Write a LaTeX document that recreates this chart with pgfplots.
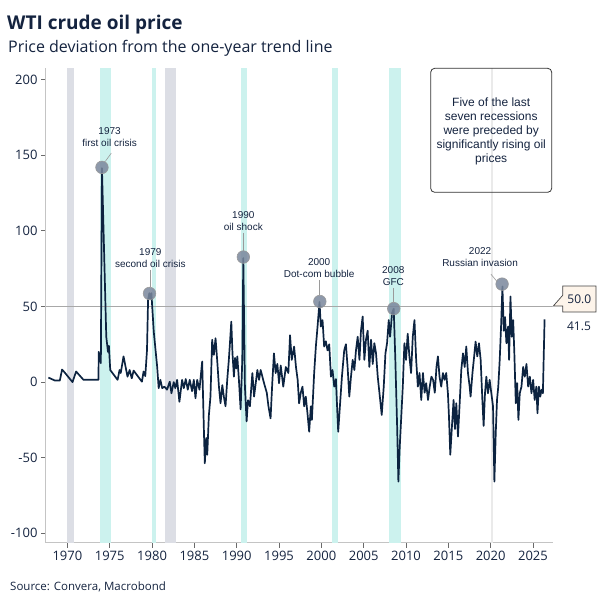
\documentclass[border=0pt]{standalone}
\usepackage{fontspec}
\setmainfont{Open Sans}
\newfontfamily\arialf{Liberation Sans}
\usepackage{pgfplots}
\pgfplotsset{compat=1.18}
\definecolor{navy}{HTML}{0C2340}
\definecolor{txt}{HTML}{14233F}
\definecolor{cyanband}{HTML}{CCF2EE}
\definecolor{grayband}{HTML}{DCDEE5}
\definecolor{axisgray}{HTML}{C4C4C4}
\definecolor{tickgray}{HTML}{6A6A6A}
\definecolor{refgray}{HTML}{A8A8A8}
\definecolor{covidline}{HTML}{EAEAEA}
\definecolor{dotfill}{HTML}{7A879C}
\definecolor{calloutfill}{HTML}{FDF4EA}
\definecolor{leader}{HTML}{9A9A9A}

\begin{document}
\begin{tikzpicture}
\path[use as bounding box] (0pt,0pt) rectangle (606pt,-606pt);
\begin{axis}[
  at={(46pt,-542.7pt)}, anchor=south west,
  scale only axis, width=506.7pt, height=474.7pt,
  xmin=1967.47, xmax=2027.33, ymin=-106.2, ymax=207.7,
  axis lines*=left,
  axis line style={draw=axisgray, line width=1pt, -},
  tick align=outside, major tick length=5pt,
  tick style={draw=tickgray, line width=0.8pt},
  xtick={1970,1975,...,2025},
  ytick={-100,-50,0,50,100,150,200},
  /pgf/number format/assume math mode=true,
  /pgf/number format/1000 sep={},
  xticklabel style={font=\fontsize{13}{13}\selectfont, text=txt},
  yticklabel style={font=\fontsize{13}{13}\selectfont, text=txt},
]
% recession bands
\addplot[draw=none, fill=grayband] coordinates {(1969.92,-106.2) (1969.92,207.7) (1970.75,207.7) (1970.75,-106.2)} -- cycle;
\addplot[draw=none, fill=cyanband] coordinates {(1973.85,-106.2) (1973.85,207.7) (1975.1,207.7) (1975.1,-106.2)} -- cycle;
\addplot[draw=none, fill=cyanband] coordinates {(1980.0,-106.2) (1980.0,207.7) (1980.45,207.7) (1980.45,-106.2)} -- cycle;
\addplot[draw=none, fill=grayband] coordinates {(1981.5,-106.2) (1981.5,207.7) (1982.8,207.7) (1982.8,-106.2)} -- cycle;
\addplot[draw=none, fill=cyanband] coordinates {(1990.55,-106.2) (1990.55,207.7) (1991.2,207.7) (1991.2,-106.2)} -- cycle;
\addplot[draw=none, fill=cyanband] coordinates {(2001.2,-106.2) (2001.2,207.7) (2001.92,207.7) (2001.92,-106.2)} -- cycle;
\addplot[draw=none, fill=cyanband] coordinates {(2008.0,-106.2) (2008.0,207.7) (2009.45,207.7) (2009.45,-106.2)} -- cycle;
\addplot[draw=covidline, line width=1.2pt] coordinates {(2020.15,-106.2) (2020.15,207.7)};
% 50 reference line
\addplot[draw=refgray, line width=1.5pt] coordinates {(1967.47,50) (2027.33,50)};
% price deviation series
\addplot[navy, line width=1.7pt, line join=round] coordinates {
(1967.75,3) (1968.54,1) (1969.1,1) (1969.37,8.3) (1969.73,6) (1970.6,0)
(1971.03,7) (1971.9,1.5) (1973.67,1.5) (1973.7,20) (1973.87,14.7) (1973.95,12.5)
(1974.08,141.5) (1974.59,30) (1974.79,20) (1974.9,24) (1975.06,8) (1975.93,1.5)
(1976.16,8) (1976.3,6) (1976.63,17) (1977.1,3.6) (1977.35,8) (1977.6,2.5)
(1977.82,7.6) (1978.8,0.3) (1979.0,7) (1979.2,4) (1979.4,21) (1979.53,54.4)
(1979.68,58.8) (1979.8,55) (1979.92,58.8) (1980.2,33.4) (1980.6,10.3) (1980.78,-4)
(1980.98,1.5) (1981.2,-4) (1981.46,-3) (1981.77,-5) (1982.09,0.3) (1982.29,-7.4)
(1982.56,0) (1982.75,-4) (1982.96,1.5) (1983.23,-13) (1983.55,1.5) (1983.75,-4)
(1983.98,2) (1984.22,-5) (1984.45,1.5) (1984.73,-6) (1984.93,1.5) (1985.13,-10.7)
(1985.33,1.5) (1985.6,-5) (1985.92,13.6) (1986.12,-31) (1986.23,-53.7) (1986.4,-37)
(1986.52,-48) (1986.71,-22) (1986.9,-9.6) (1987.1,28) (1987.3,18) (1987.5,29)
(1987.7,14) (1987.9,-3) (1988.09,-14) (1988.3,-2) (1988.48,-9.6) (1988.68,-16)
(1988.88,1.5) (1989.07,14.7) (1989.2,25.7) (1989.36,40) (1989.5,19) (1989.67,3.6)
(1989.8,16) (1989.95,9) (1990.07,17) (1990.26,1.5) (1990.46,-18) (1990.66,14.7)
(1990.78,82) (1990.97,-3) (1991.17,-26) (1991.33,-12) (1991.56,-16) (1991.85,6)
(1992.05,-9.6) (1992.44,8) (1992.64,1.5) (1992.83,8) (1993.23,-0.7) (1993.55,-7)
(1993.75,-16) (1994.0,-24) (1994.2,-0.7) (1994.4,19) (1994.6,6) (1994.8,12)
(1995.0,-0.7) (1995.2,11) (1995.5,-3) (1995.8,10) (1996.1,6) (1996.3,31)
(1996.5,14.7) (1996.78,23.5) (1997.0,10) (1997.2,1.5) (1997.37,-14) (1997.57,-7)
(1997.77,-3) (1997.97,-16) (1998.16,-9.6) (1998.36,-20.6) (1998.56,-32.8) (1998.76,-16)
(1998.88,-25) (1999.15,6) (1999.35,23.5) (1999.55,36.7) (1999.78,53) (1999.94,36.7)
(2000.14,41) (2000.33,23.5) (2000.53,27) (2000.73,21) (2000.93,25) (2001.13,3.6)
(2001.32,8) (2001.52,-3) (2001.72,2) (2001.84,-14) (2001.99,-32.8) (2002.19,-16)
(2002.43,3.6) (2002.7,21) (2002.9,25) (2003.1,10) (2003.3,-9.6) (2003.5,3.6)
(2003.7,14.7) (2003.9,8) (2004.09,21) (2004.29,30) (2004.5,14.7) (2004.68,34)
(2004.88,43.4) (2005.08,14.7) (2005.27,28) (2005.47,34) (2005.67,10) (2005.87,28)
(2006.07,12) (2006.26,25.7) (2006.46,19) (2006.66,3.6) (2006.86,-7) (2007.13,-21.7)
(2007.37,-3) (2007.57,19) (2007.76,25.7) (2007.96,41) (2008.12,30) (2008.35,45.6)
(2008.55,48.5) (2008.74,14.7) (2008.95,-29) (2009.1,-65.8) (2009.26,-42.7) (2009.42,-25)
(2009.62,-3) (2009.81,25.7) (2010.0,14.7) (2010.2,32) (2010.4,17) (2010.6,6)
(2010.8,30) (2011.0,41) (2011.2,14.7) (2011.4,-3) (2011.6,6) (2011.8,-11.8)
(2012.0,6) (2012.2,-7) (2012.38,-0.7) (2012.6,-11.8) (2012.8,-3) (2013.0,3.6)
(2013.2,1.5) (2013.4,-7) (2013.6,10) (2013.77,17) (2013.96,3.6) (2014.16,-3)
(2014.36,6) (2014.55,1.5) (2014.75,6) (2014.95,-7.4) (2015.07,-22) (2015.23,-48)
(2015.43,-29) (2015.62,-11.8) (2015.78,-31) (2015.94,-14) (2016.14,-36) (2016.34,-14)
(2016.53,8) (2016.73,19) (2016.93,10) (2017.12,23.5) (2017.32,6) (2017.52,-3)
(2017.63,-9.6) (2017.85,6) (2018.05,17) (2018.22,26.8) (2018.42,17) (2018.62,25.7)
(2018.82,14.7) (2019.02,-11.8) (2019.17,-29) (2019.33,-7.4) (2019.49,3.6) (2019.68,-7.4)
(2019.88,1.5) (2020.08,-7.4) (2020.28,-16) (2020.44,-65.8) (2020.6,-34) (2020.75,-11.8)
(2020.9,-3) (2021.07,14.7) (2021.23,36.7) (2021.39,63.2) (2021.55,34) (2021.7,43)
(2021.86,25.7) (2022.06,36.7) (2022.18,14.7) (2022.34,56.6) (2022.5,30) (2022.66,41)
(2022.8,19) (2022.97,-14) (2023.13,-0.7) (2023.28,-25) (2023.44,-7.4) (2023.64,-3)
(2023.84,10) (2024.03,3.6) (2024.23,12) (2024.43,-3) (2024.63,3.6) (2024.82,-7.4)
(2025.02,1.5) (2025.2,-11.8) (2025.4,-3) (2025.53,-20.6) (2025.7,-3) (2025.86,-9.6)
(2026.02,-5) (2026.17,-7.4) (2026.37,41.5)
};
% highlighted peaks
\addplot[only marks, mark=*, mark size=6.3pt,
  mark options={fill=dotfill, fill opacity=0.85, draw=leader, line width=0.6pt}]
  coordinates {(1974.08,142) (1979.7,58.6) (1990.78,82.7) (1999.82,53.3) (2008.55,48.6) (2021.35,64.8)};
% leaders and labels
\draw[leader, line width=0.6pt] (axis cs:1975.18,151.4) -- (axis cs:1974.47,145.9);
\draw[leader, line width=0.6pt] (axis cs:1979.74,74.3) -- (axis cs:1979.74,63);
\draw[leader, line width=0.6pt] (axis cs:1990.78,98.7) -- (axis cs:1990.78,86.8);
\draw[leader, line width=0.6pt] (axis cs:1999.78,67.6) -- (axis cs:1999.78,57.7);
\draw[leader, line width=0.6pt] (axis cs:2008.5,62.3) -- (axis cs:2008.5,53);
\draw[leader, line width=0.6pt] (axis cs:2020.03,71.4) -- (axis cs:2020.75,66.5);
\begin{scope}[every node/.style={font=\arialf\fontsize{10}{12}\selectfont, text=txt, align=center, inner sep=0pt}]
\node at (axis cs:1974.98,161.8) {1973\\first oil crisis};
\node at (axis cs:1979.8,81.75) {1979\\second oil crisis};
\node at (axis cs:1990.78,106.5) {1990\\oil shock};
\node at (axis cs:1999.74,75.4) {2000\\Dot-com bubble};
\node at (axis cs:2008.5,70.2) {2008\\GFC};
\node at (axis cs:2018.75,82.4) {2022\\Russian invasion};
\end{scope}
\end{axis}
% titles
\node[anchor=base west, inner sep=0pt, text=txt, font=\bfseries\fontsize{19}{19}\selectfont] at (7pt,-29pt) {WTI crude oil price};
\node[anchor=base west, inner sep=0pt, text=txt, font=\fontsize{16}{16}\selectfont] at (8pt,-52.3pt) {Price deviation from the one-year trend line};
\node[anchor=base west, inner sep=0pt, text=txt, font=\fontsize{11.5}{11.5}\selectfont] at (10pt,-590pt) {Source: Convera, Macrobond};
% note box
\draw[rounded corners=4pt, draw={rgb,255:red,51;green,51;blue,51}, line width=0.8pt] (430.7pt,-68.3pt) rectangle (551.7pt,-192.3pt);
\node[align=center, inner sep=0pt, text=txt, font=\arialf\fontsize{12}{14}\selectfont] at (491.2pt,-131pt) {Five of the last\\seven recessions\\were preceded by\\significantly rising oil\\prices};
% value callout
\filldraw[fill=calloutfill, draw={rgb,255:red,68;green,68;blue,68}, line width=0.7pt] (562.7pt,-286pt) -- (596pt,-286pt) -- (596pt,-312pt) -- (562.7pt,-312pt) -- (562.7pt,-306pt) -- (553.3pt,-306pt) -- (562.7pt,-295.3pt) -- cycle;
\node[inner sep=0pt, text=txt, font=\fontsize{12}{12}\selectfont] at (579.3pt,-299pt) {50.0};
\node[inner sep=0pt, text=txt, font=\fontsize{12}{12}\selectfont] at (579pt,-326pt) {41.5};
\end{tikzpicture}
\end{document}
